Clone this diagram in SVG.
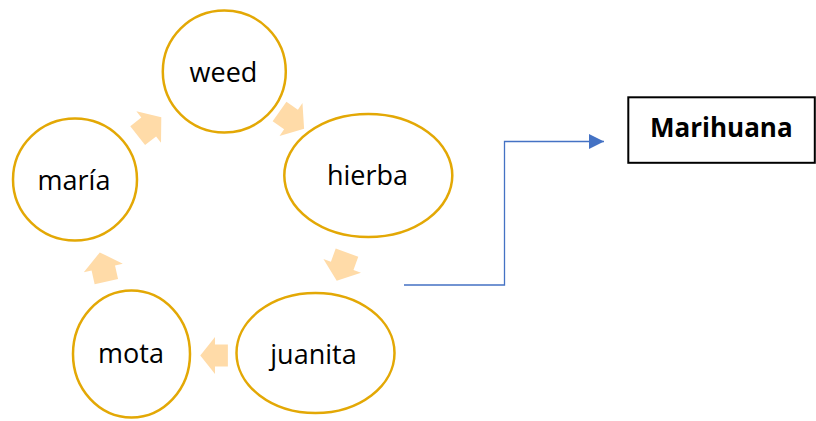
<svg xmlns="http://www.w3.org/2000/svg" xmlns:xlink="http://www.w3.org/1999/xlink" width="816" height="421" viewBox="0 0 816 421">
  <style>
    .node { fill: #FFFFFF; stroke: #E3A805; stroke-width: 2.5; }
    .label { font-family: "Open Sans", "Liberation Sans", sans-serif; font-size: 27px; fill: #000000; text-anchor: middle; }
    .cycle-arrow { fill: #FFDBA8; stroke: none; }
    .link { fill: none; stroke: #4472C4; stroke-width: 1.3; }
    .box { fill: #FFFFFF; stroke: #000000; stroke-width: 2; }
    .box-label { font-family: "Open Sans", "Liberation Sans", sans-serif; font-size: 26px; font-weight: bold; fill: #000000; }
  </style>
  <defs>
    <!-- block arrow pointing along +x, origin at the base of the head -->
    <polygon id="blockArrow" points="-14,-12 0,-12 0,-20 16,0 0,20 0,12 -14,12"/>
    <marker id="linkHead" markerWidth="16" markerHeight="16" refX="15" refY="7.5" orient="auto" markerUnits="userSpaceOnUse">
      <polygon points="0,0 15,7.5 0,15" fill="#4472C4"/>
    </marker>
  </defs>

  <rect width="816" height="421" fill="#FFFFFF"/>

  <!-- arrows between the cycle nodes -->
  <g id="cycle-arrows">
    <use xlink:href="#blockArrow" class="cycle-arrow" transform="translate(148.7,127) rotate(-38)"/>
    <use xlink:href="#blockArrow" class="cycle-arrow" transform="translate(291,119.5) rotate(35)"/>
    <use xlink:href="#blockArrow" class="cycle-arrow" transform="translate(342.2,265.8) rotate(110)"/>
    <use xlink:href="#blockArrow" class="cycle-arrow" transform="translate(215,355.5) rotate(180) scale(0.92)"/>
    <use xlink:href="#blockArrow" class="cycle-arrow" transform="translate(103.3,268) rotate(-102.6)"/>
  </g>

  <!-- elbow connector to the result box -->
  <g id="connectors">
    <polyline class="link" points="404,285 504.5,285 504.5,141.5 604,141.5" marker-end="url(#linkHead)"/>
  </g>

  <g id="node-weed">
    <ellipse class="node" cx="224.3" cy="71.5" rx="61.5" ry="61"/>
    <text class="label" x="223.5" y="82">weed</text>
  </g>

  <g id="node-hierba">
    <ellipse class="node" cx="368.3" cy="175.5" rx="84" ry="61.5"/>
    <text class="label" x="367.5" y="185">hierba</text>
  </g>

  <g id="node-juanita">
    <ellipse class="node" cx="315.5" cy="353" rx="79" ry="60"/>
    <text class="label" x="313.5" y="364">juanita</text>
  </g>

  <g id="node-mota">
    <ellipse class="node" cx="131.5" cy="354" rx="58.5" ry="63.5"/>
    <text class="label" x="131" y="363">mota</text>
  </g>

  <g id="node-maria">
    <ellipse class="node" cx="75" cy="179.5" rx="62" ry="61"/>
    <text class="label" x="74" y="190">maría</text>
  </g>

  <g id="node-marihuana">
    <rect class="box" x="628.3" y="97.3" width="186.5" height="65.5"/>
    <text class="box-label" x="650" y="137">Marihuana</text>
  </g>
</svg>
